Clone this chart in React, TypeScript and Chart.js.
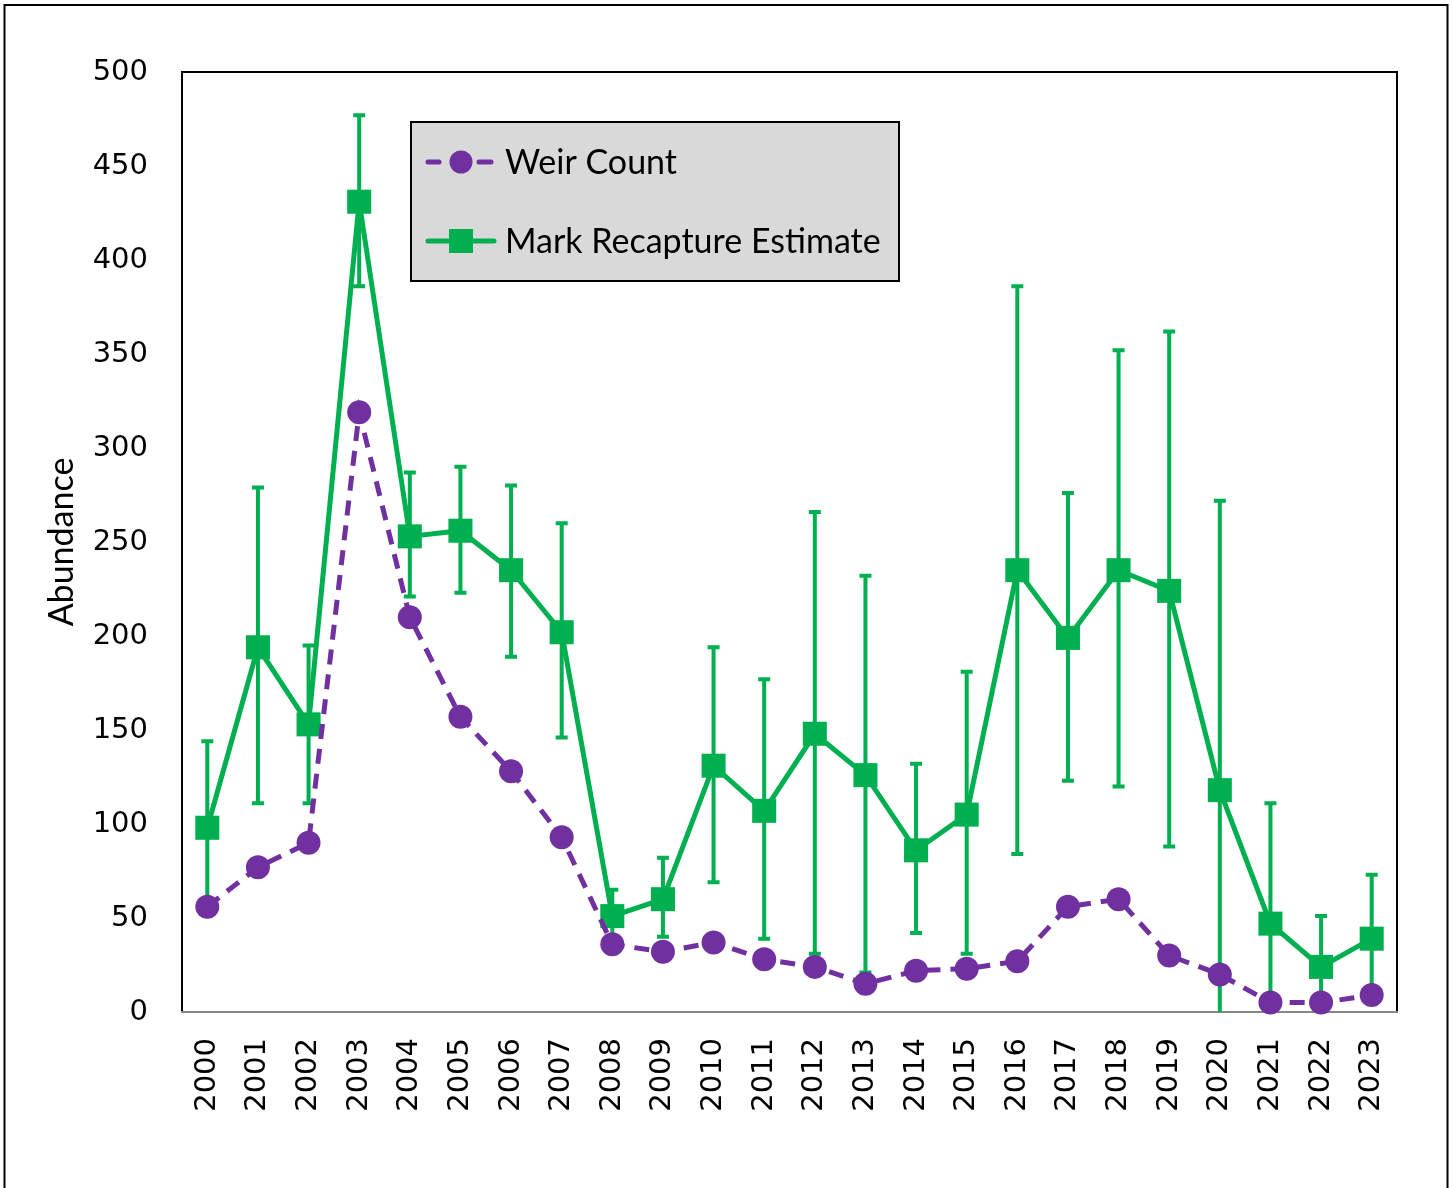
import React, { useEffect, useRef } from "react";
import { Chart, registerables } from "chart.js";

Chart.register(...registerables);

const years = [
  "2000", "2001", "2002", "2003", "2004", "2005", "2006", "2007", "2008", "2009", "2010", "2011",
  "2012", "2013", "2014", "2015", "2016", "2017", "2018", "2019", "2020", "2021", "2022", "2023",
];

const weirCount = [56, 77, 90, 319, 210, 157, 128, 93, 36, 32, 37, 28, 24, 15, 22, 23, 27, 56, 60, 30, 20, 5, 5, 9];

const markRecapture = [98, 194, 153, 431, 253, 256, 235, 202, 51, 60, 131, 107, 148, 126, 86, 105, 235, 199, 235, 224, 118, 47, 24, 39];

const upperCI = [144, 279, 195, 477, 287, 290, 280, 260, 65, 82, 194, 177, 266, 232, 132, 181, 386, 276, 352, 362, 272, 111, 51, 73];

const lowerCI = [55, 111, 111, 386, 221, 223, 189, 146, 38, 40, 69, 39, 31, 21, 42, 31, 84, 123, 120, 88, -20, -15, 6, 10];

const yTicks = [0, 50, 100, 150, 200, 250, 300, 350, 400, 450, 500];

const PURPLE = "#7030A0";
const GREEN = "#00B050";

export default function App() {
  const ref = useRef<HTMLCanvasElement | null>(null);

  useEffect(() => {
    document.body.style.margin = "0";
    const canvas = ref.current;
    if (!canvas) return;

    const framePlugin = {
      id: "frame",
      beforeDraw(chart: any) {
        const ctx = chart.ctx;
        ctx.save();
        ctx.fillStyle = "#ffffff";
        ctx.fillRect(0, 0, chart.width, chart.height);
        ctx.strokeStyle = "#000000";
        ctx.lineWidth = 2;
        ctx.strokeRect(4.5, 5, 1443, 1200);
        ctx.restore();
      },
      beforeDatasetsDraw(chart: any) {
        const ctx = chart.ctx;
        const ca = chart.chartArea;
        ctx.save();
        ctx.strokeStyle = "#000000";
        ctx.lineWidth = 2;
        ctx.beginPath();
        ctx.moveTo(ca.left, ca.bottom);
        ctx.lineTo(ca.left, ca.top);
        ctx.lineTo(ca.right, ca.top);
        ctx.lineTo(ca.right, ca.bottom);
        ctx.stroke();
        ctx.strokeStyle = "#878787";
        ctx.beginPath();
        ctx.moveTo(ca.left - 1, ca.bottom);
        ctx.lineTo(ca.right + 1, ca.bottom);
        ctx.stroke();

        // error bars
        const xs = chart.scales.x;
        const ys = chart.scales.y;
        ctx.beginPath();
        ctx.rect(ca.left, ca.top, ca.right - ca.left, ca.bottom - ca.top);
        ctx.clip();
        ctx.strokeStyle = GREEN;
        ctx.lineWidth = 4;
        ctx.lineCap = "butt";
        for (let i = 0; i < years.length; i++) {
          const x = xs.getPixelForValue(i);
          const yu = ys.getPixelForValue(upperCI[i]);
          const yl = ys.getPixelForValue(lowerCI[i]);
          ctx.beginPath();
          ctx.moveTo(x, yu);
          ctx.lineTo(x, yl);
          ctx.moveTo(x - 6, yu);
          ctx.lineTo(x + 6, yu);
          ctx.moveTo(x - 6, yl);
          ctx.lineTo(x + 6, yl);
          ctx.stroke();
        }
        ctx.restore();
      },
      afterDatasetsDraw(chart: any) {
        const ctx = chart.ctx;
        const ca = chart.chartArea;
        const bx = ca.left + 229;
        const by = ca.top + 50;
        const bw = 488;
        const bh = 159;
        ctx.save();
        ctx.fillStyle = "#D9D9D9";
        ctx.fillRect(bx, by, bw, bh);
        ctx.strokeStyle = "#000000";
        ctx.lineWidth = 2;
        ctx.strokeRect(bx, by, bw, bh);

        const mx = bx + 50;
        const y1 = by + 40;
        const y2 = by + 119;
        // weir
        ctx.strokeStyle = PURPLE;
        ctx.lineWidth = 5;
        ctx.lineCap = "round";
        ctx.beginPath();
        ctx.moveTo(mx - 33, y1);
        ctx.lineTo(mx - 22, y1);
        ctx.moveTo(mx + 18, y1);
        ctx.lineTo(mx + 30, y1);
        ctx.stroke();
        ctx.fillStyle = PURPLE;
        ctx.beginPath();
        ctx.arc(mx, y1, 11.5, 0, Math.PI * 2);
        ctx.fill();
        // mark recapture
        ctx.strokeStyle = GREEN;
        ctx.beginPath();
        ctx.moveTo(mx - 33, y2);
        ctx.lineTo(mx + 33, y2);
        ctx.stroke();
        ctx.fillStyle = GREEN;
        ctx.fillRect(mx - 12, y2 - 12, 24, 24);

        ctx.fillStyle = "#000000";
        ctx.font = "34px Lato";
        ctx.textBaseline = "middle";
        ctx.textAlign = "left";
        ctx.fillText("Weir Count", bx + 94, y1 + 1);
        ctx.fillText("Mark Recapture Estimate", bx + 94, y2 + 1);
        ctx.restore();
      },
    };

    const chart = new Chart(canvas, {
      type: "line",
      data: {
        labels: years,
        datasets: [
          {
            label: "Weir Count",
            data: weirCount,
            borderColor: PURPLE,
            backgroundColor: PURPLE,
            borderWidth: 5,
            borderDash: [15, 10],
            pointStyle: "circle",
            pointRadius: 12,
            pointBackgroundColor: PURPLE,
            pointBorderWidth: 0,
            tension: 0,
            clip: false,
            order: 0,
          },
          {
            label: "Mark Recapture Estimate",
            data: markRecapture,
            borderColor: GREEN,
            backgroundColor: GREEN,
            borderWidth: 5,
            pointStyle: "rect",
            pointRadius: 17,
            pointBackgroundColor: GREEN,
            pointBorderWidth: 0,
            tension: 0,
            clip: false,
            order: 1,
          },
        ],
      },
      options: {
        responsive: false,
        animation: false,
        devicePixelRatio: 1,
        layout: { padding: { left: 0, top: 72, right: 56, bottom: 0 } },
        plugins: {
          legend: { display: false },
          tooltip: { enabled: false },
        },
        scales: {
          x: {
            offset: true,
            grid: { display: false, drawTicks: false },
            border: { display: false },
            ticks: {
              minRotation: 90,
              maxRotation: 90,
              autoSkip: false,
              padding: 26,
              color: "#000000",
              font: { family: "DejaVu Sans", size: 29 },
            },
            afterFit: (s: any) => {
              s.height = 176;
            },
          },
          y: {
            min: 0,
            max: 500,
            grid: { display: false, drawTicks: false },
            border: { display: false },
            afterBuildTicks: (s: any) => {
              s.ticks = yTicks.map((v) => ({ value: v }));
            },
            ticks: {
              padding: 34,
              color: "#000000",
              font: { family: "DejaVu Sans", size: 29 },
            },
            title: {
              display: true,
              text: "Abundance",
              color: "#000000",
              font: { family: "Lato", size: 34 },
              padding: { top: 42, bottom: 0 },
            },
            afterFit: (s: any) => {
              s.width = 182;
            },
          },
        },
      },
      plugins: [framePlugin],
    });

    return () => chart.destroy();
  }, []);

  return (
    <div style={{ width: 1453, height: 1188, overflow: "hidden" }}>
      <canvas ref={ref} width={1453} height={1188} style={{ display: "block" }} />
    </div>
  );
}
